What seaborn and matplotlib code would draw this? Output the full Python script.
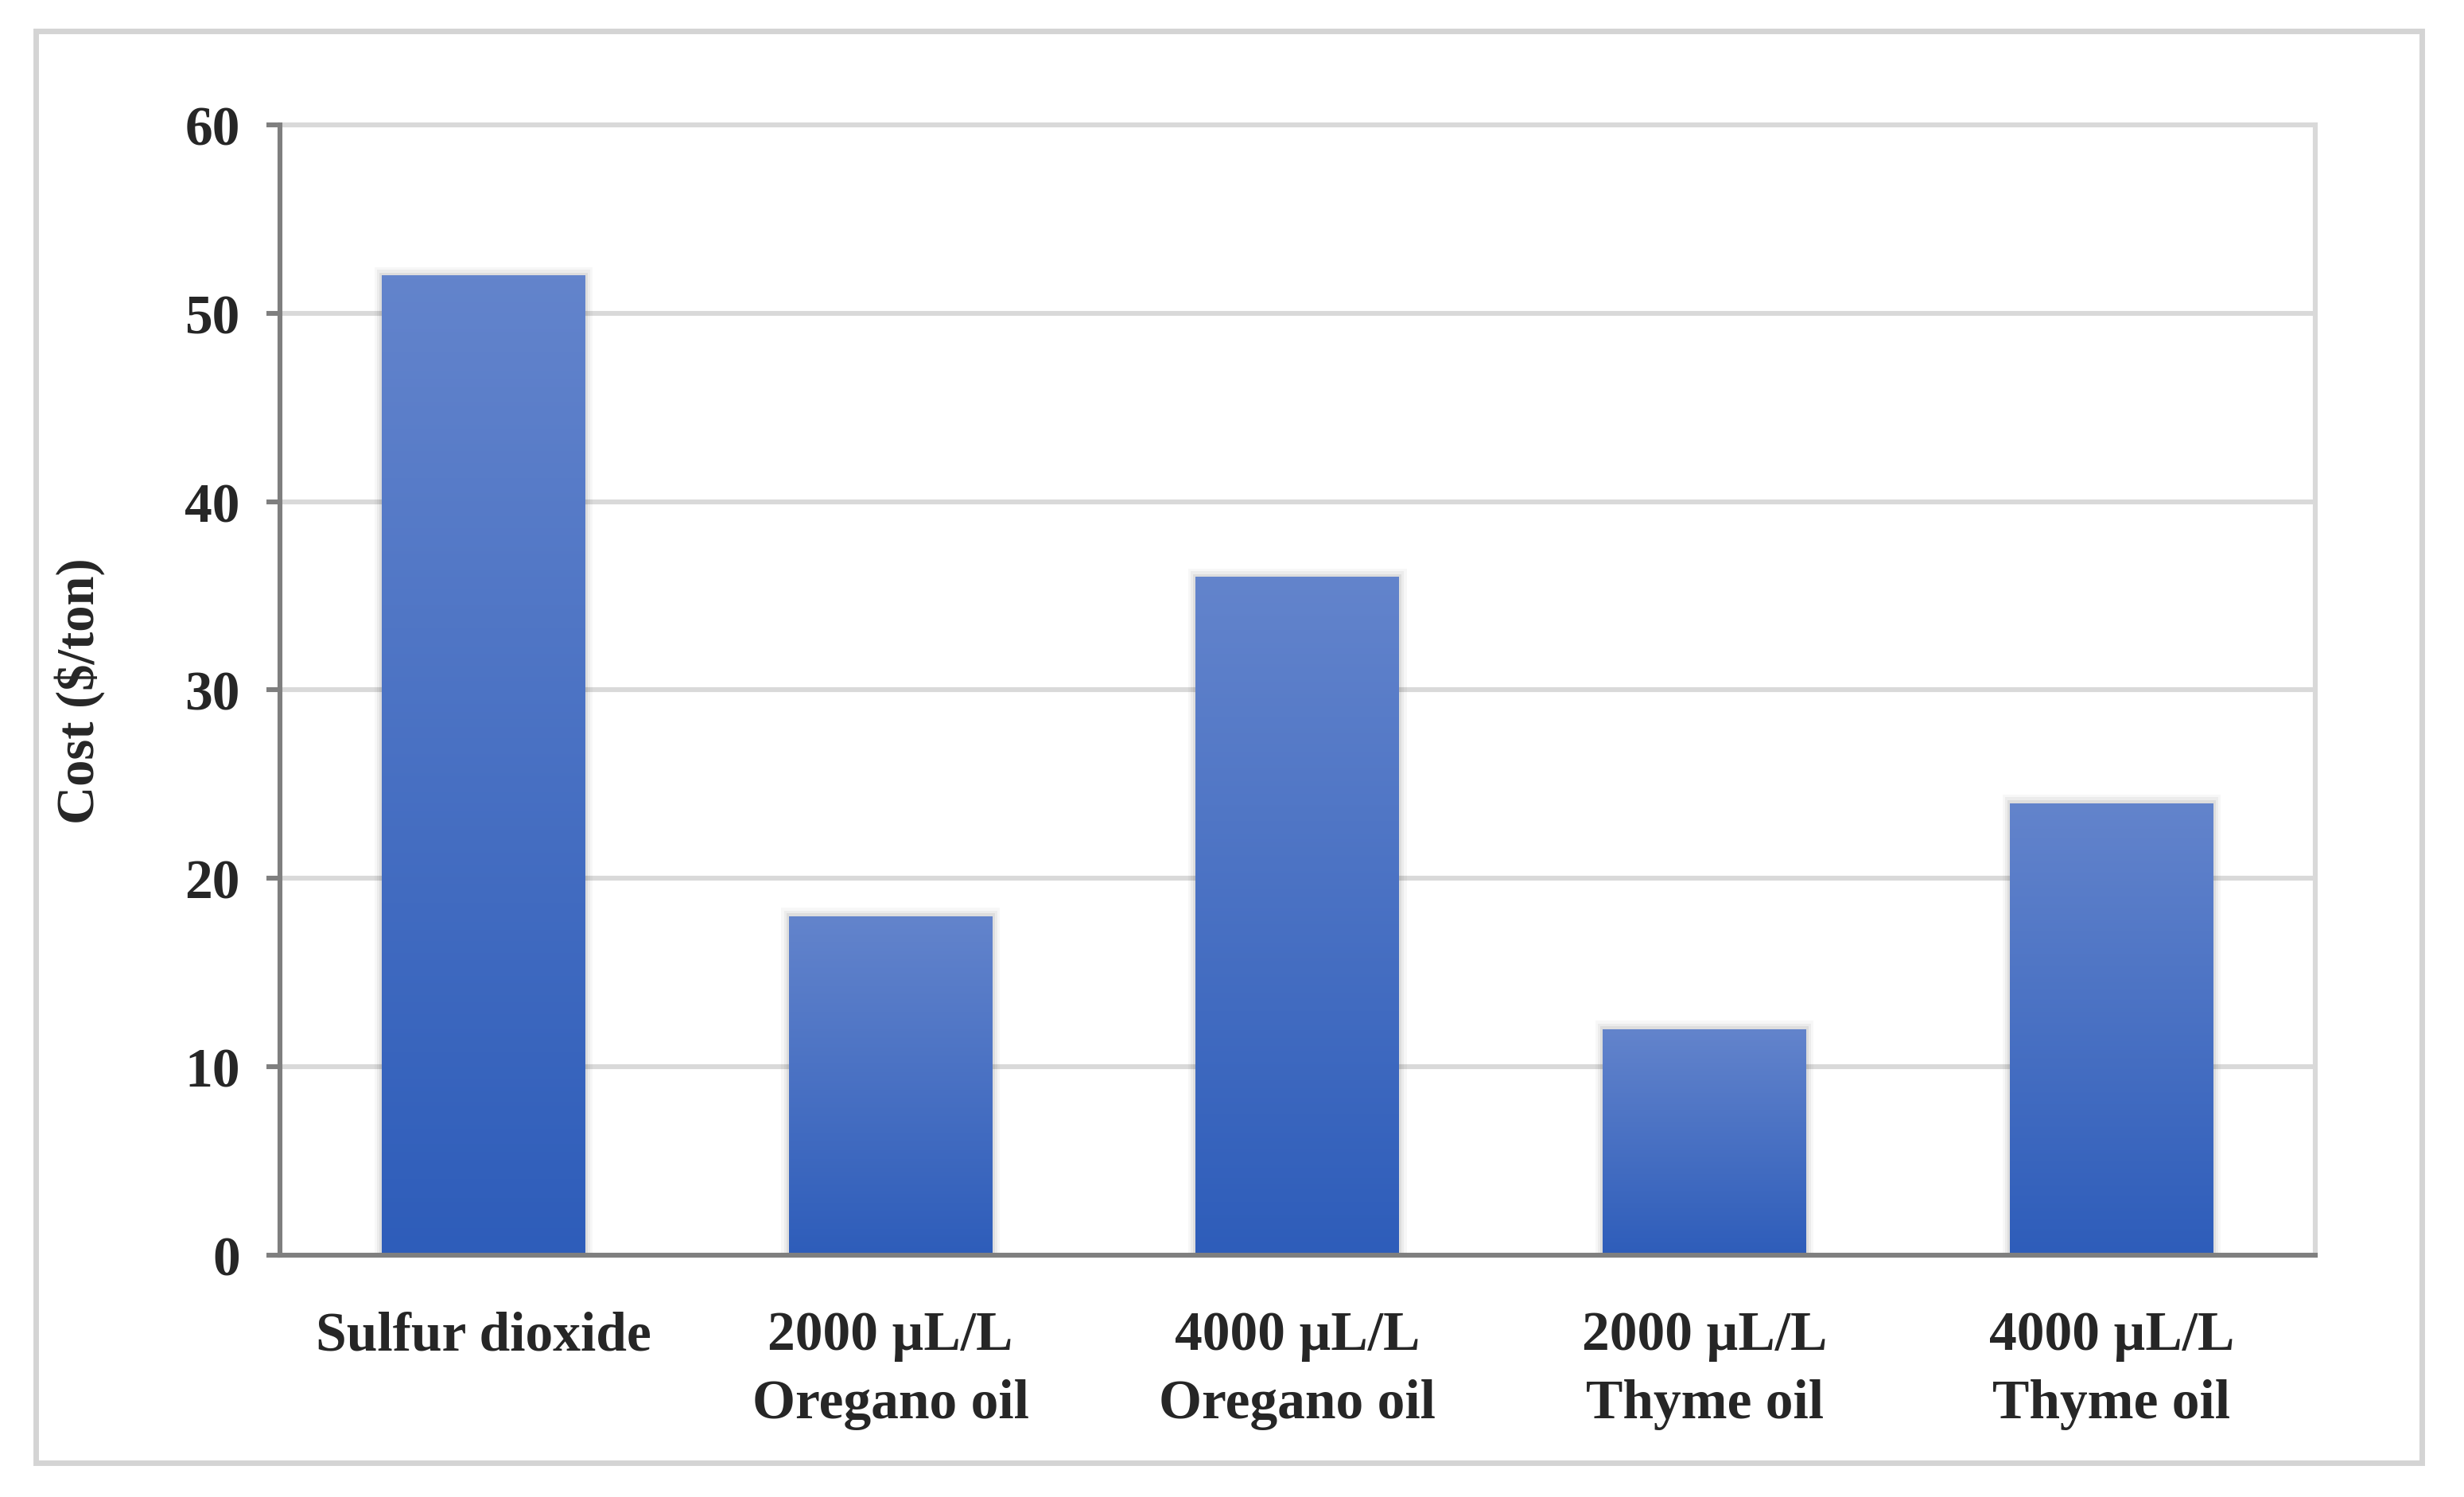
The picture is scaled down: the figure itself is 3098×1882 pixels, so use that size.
import numpy as np
import matplotlib
matplotlib.use("Agg")
import matplotlib.pyplot as plt
from matplotlib.colors import LinearSegmentedColormap
from matplotlib.patches import Rectangle
import seaborn as sns

# ── data ──────────────────────────────────────────────────────────────────────
treatments = [
    "Sulfur dioxide",
    "2000 \u00b5L/L\nOregano oil",
    "4000 \u00b5L/L\nOregano oil",
    "2000 \u00b5L/L\nThyme oil",
    "4000 \u00b5L/L\nThyme oil",
]
cost_per_ton = [52, 18, 36, 12, 24]
y_ticks = [0, 10, 20, 30, 40, 50, 60]

# ── style ─────────────────────────────────────────────────────────────────────
sns.set_theme(style="white")
plt.rcParams["font.family"] = ["Liberation Serif", "DejaVu Serif"]
plt.rcParams["font.weight"] = "bold"

TOP_BLUE = "#6384CC"
BOT_BLUE = "#2E5DBA"
GRID = "#D9D9D9"
AXIS = "#7F7F7F"

fig = plt.figure(figsize=(15.49, 9.415), dpi=200)
ax = fig.add_axes([0.1136, 0.1615, 0.8260, 0.7546])

sns.barplot(x=treatments, y=cost_per_ton, color=BOT_BLUE, width=0.5,
            saturation=1, ax=ax, zorder=3)

# vertical gradient fill clipped to each bar
grad_cmap = LinearSegmentedColormap.from_list("bar_grad", [BOT_BLUE, TOP_BLUE])
grad = np.linspace(0, 1, 256).reshape(-1, 1)
for bar in ax.patches:
    x0, y0 = bar.get_x(), bar.get_y()
    w, h = bar.get_width(), bar.get_height()
    bar.set_edgecolor("none")
    im = ax.imshow(grad, cmap=grad_cmap, origin="lower", aspect="auto",
                   extent=[x0, x0 + w, y0, y0 + h], zorder=4)
    im.set_clip_path(bar)
    # soft shadow around bars
    for k, a in enumerate([0.06, 0.045, 0.03]):
        pad = 0.006 * (k + 1)
        ax.add_patch(Rectangle((x0 - pad, y0), w + 2 * pad, h + pad * 25,
                               facecolor="black", alpha=a, edgecolor="none",
                               zorder=2.5))

ax.set_xlim(-0.5, len(treatments) - 0.5)
ax.set_ylim(0, 60)
ax.set_yticks(y_ticks)
ax.yaxis.grid(True, color=GRID, linewidth=2.2, zorder=0)
ax.xaxis.grid(False)

for side in ["top", "right"]:
    ax.spines[side].set_color(GRID)
    ax.spines[side].set_linewidth(2.2)
for side in ["left", "bottom"]:
    ax.spines[side].set_color(AXIS)
    ax.spines[side].set_linewidth(2.2)
    ax.spines[side].set_zorder(5)

ax.tick_params(axis="y", which="major", left=True, length=6, width=2.2,
               color=AXIS, pad=12, labelsize=25)
ax.tick_params(axis="x", which="major", bottom=False, pad=19, labelsize=25)
for lab in ax.get_xticklabels():
    lab.set_linespacing(1.45)
    lab.set_fontweight("bold")
for lab in ax.get_yticklabels():
    lab.set_fontweight("bold")

ax.set_xlabel("")
ax.set_ylabel("Cost ($/ton)", fontsize=24, fontweight="bold")
ax.yaxis.set_label_coords(-0.086, 0.5)

# light gray frame around the whole chart
fig.patches.append(Rectangle((0.0145, 0.0228), 0.9685, 0.956,
                             transform=fig.transFigure, fill=False,
                             edgecolor="#D4D4D4", linewidth=2.5))

fig.savefig("out.png", dpi=200, facecolor="white")
